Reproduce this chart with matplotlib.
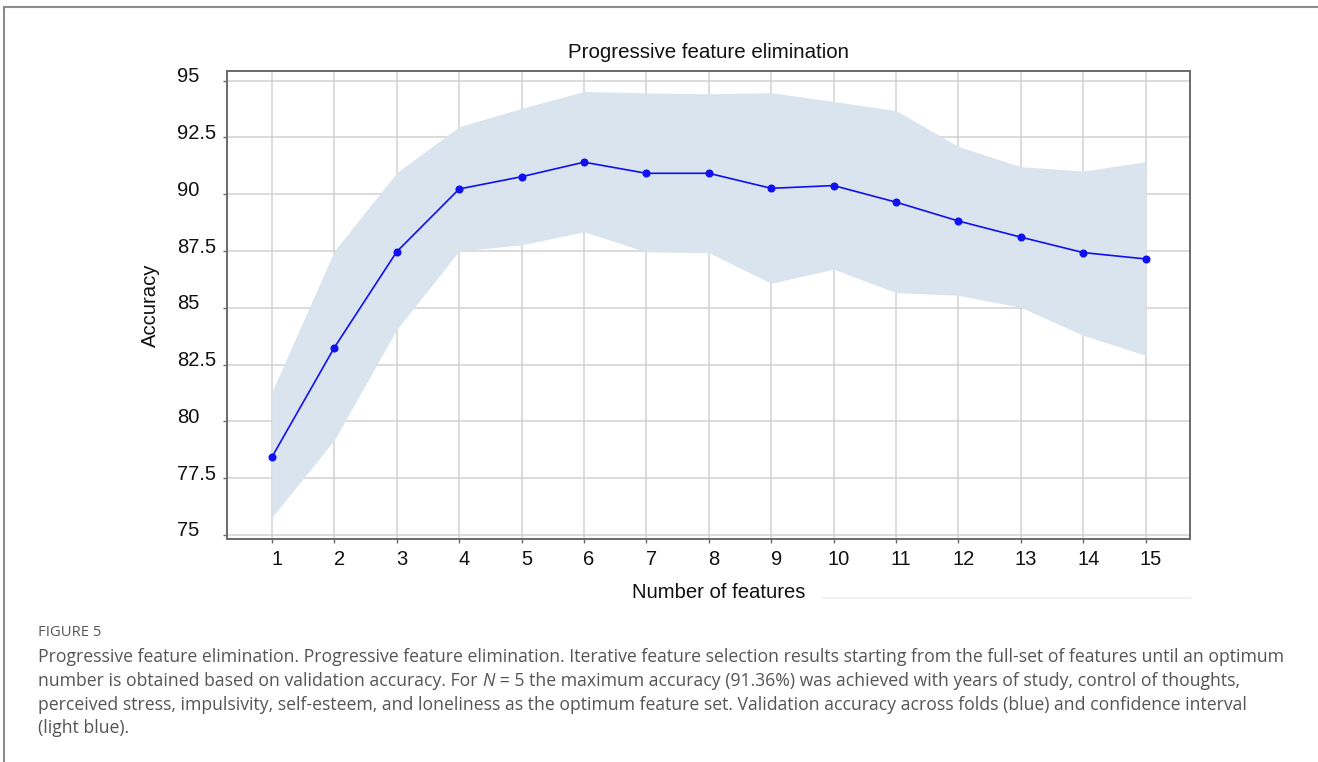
import numpy as np
import matplotlib
matplotlib.use("Agg")
import matplotlib.pyplot as plt
from matplotlib.transforms import ScaledTranslation
from matplotlib.lines import Line2D

# values
n_features = [1, 2, 3, 4, 5, 6, 7, 8, 9, 10, 11, 12, 13, 14, 15]
accuracy = [78.43, 83.25, 87.47, 90.23, 90.77, 91.41, 90.92, 90.92, 90.26,
            90.38, 89.65, 88.82, 88.11, 87.43, 87.15]
ci_upper = [81.3, 87.5, 90.95, 92.97, 93.78, 94.52, 94.46, 94.42, 94.47,
            94.08, 93.68, 92.1, 91.21, 91.02, 91.43]
ci_lower = [75.78, 79.18, 84.05, 87.5, 87.77, 88.35, 87.46, 87.43, 86.08,
            86.7, 85.67, 85.55, 85.02, 83.79, 82.91]
y_ticks = [75, 77.5, 80, 82.5, 85, 87.5, 90, 92.5, 95]
y_tick_labels = ["75", "77.5", "80", "82.5", "85", "87.5", "90", "92.5", "95"]

caption_head = "FIGURE 5"
caption_lines = [
    ["Progressive feature elimination. Progressive feature elimination. Iterative feature selection results starting from the full-set of features until an optimum"],
    ["number is obtained based on validation accuracy. For ", ("N", "italic"),
     " = 5 the maximum accuracy (91.36%) was achieved with years of study, control of thoughts,"],
    ["perceived stress, impulsivity, self-esteem, and loneliness as the optimum feature set. Validation accuracy across folds (blue) and confidence interval"],
    ["(light blue)."],
]

W, H = 1318, 762
fig = plt.figure(figsize=(W / 100, H / 100), dpi=100)
fig.patch.set_facecolor("white")

ax = fig.add_axes([227 / W, 1 - 539.3 / H, (1190 - 227) / W, (539.3 - 71.3) / H])
ax.fill_between(n_features, ci_lower, ci_upper, color="#d9e4ee", lw=0, zorder=1)
ax.plot(n_features, accuracy, color="#1010f0", lw=1.2, marker="o",
        markersize=4.8, zorder=3)

ax.set_xlim(0.28, 15.71)
ax.set_ylim(74.81, 95.41)
ax.set_xticks(n_features)
ax.set_yticks(y_ticks)
ax.set_yticklabels(y_tick_labels)
ax.grid(True, color="#d2d2d2", lw=1.1, zorder=0)
ax.set_axisbelow(True)
for s in ax.spines.values():
    s.set_color("#6a6a6a")
    s.set_linewidth(1.4)
ax.tick_params(axis="both", length=3, width=1, color="#6a6a6a",
               labelsize=14.5, labelcolor="#111111")
ax.tick_params(axis="x", pad=5)
ax.tick_params(axis="y", pad=33)
for lab in ax.get_yticklabels():
    lab.set_horizontalalignment("left")
    lab.set_fontfamily("Liberation Sans")
    lab.set_transform(lab.get_transform() + ScaledTranslation(0, 6 / 100, fig.dpi_scale_trans))
for lab in ax.get_xticklabels():
    lab.set_fontfamily("Liberation Sans")
    lab.set_transform(lab.get_transform() + ScaledTranslation(5 / 100, 0, fig.dpi_scale_trans))

fig.text(709 / W, 1 - 52 / H, "Progressive feature elimination", ha="center",
         va="center", fontsize=14.8, family="Liberation Sans", color="#111111")
fig.text(719 / W, 1 - 592 / H, "Number of features", ha="center", va="center",
         fontsize=14.6, family="Liberation Sans", color="#111111")
fig.text(150 / W, 1 - 305 / H, "Accuracy", ha="center", va="center",
         rotation=90, fontsize=14.6, family="Liberation Sans", color="#111111")

# outer frame of the figure panel and the faint line right of the label
fig.add_artist(Line2D([4 / W, 1], [1 - 7 / H, 1 - 7 / H], color="#8c8c8c", lw=1.5))
fig.add_artist(Line2D([4 / W, 4 / W], [0, 1 - 7 / H], color="#8c8c8c", lw=1.5))
fig.add_artist(Line2D([822 / W, 1190 / W], [1 - 598 / H, 1 - 598 / H],
                      color="#f2f2f2", lw=1.5))

# caption
cap_color = "#555555"
fig.text(38 / W, 1 - 633 / H, caption_head, ha="left", va="center",
         fontsize=10.6, family="Open Sans", color=cap_color)
renderer = fig.canvas.get_renderer()
line_y = [657, 681, 705, 728]
for parts, yy in zip(caption_lines, line_y):
    x = 38 / W
    for part in parts:
        if isinstance(part, tuple):
            txt, style = part
        else:
            txt, style = part, "normal"
        t = fig.text(x, 1 - yy / H, txt, ha="left", va="center", fontsize=12.7,
                     family="Open Sans", style=style, color=cap_color)
        bb = t.get_window_extent(renderer)
        x = bb.x1 / W

fig.savefig("out.png", dpi=100, facecolor="white")
